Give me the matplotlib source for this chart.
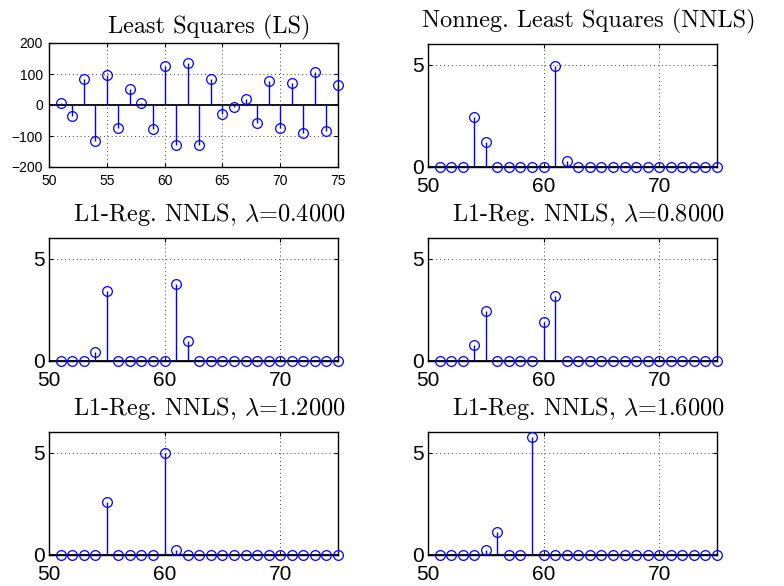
import matplotlib
matplotlib.use('Agg')
import matplotlib.pyplot as plt

plt.rcParams['mathtext.fontset'] = 'cm'
plt.rcParams['font.family'] = 'Liberation Sans'

# coefficient index (x axis)
idx = list(range(51, 76))

# estimated coefficients
ls_coef = [7, -35, 85, -116, 98, -74, 52, 7, -76, 126, -128, 137, -129,
           85, -29, -5, 20, -57, 77, -75, 70, -89, 107, -83, 65]
nnls_coef = [0, 0, 0, 2.43, 1.22, 0, 0, 0, 0, 0, 4.95, 0.31, 0,
             0, 0, 0, 0, 0, 0, 0, 0, 0, 0, 0, 0]
l1_04 = [0, 0, 0, 0.42, 3.43, 0, 0, 0, 0, 0, 3.77, 0.99, 0,
         0, 0, 0, 0, 0, 0, 0, 0, 0, 0, 0, 0]
l1_08 = [0, 0, 0, 0.78, 2.42, 0, 0, 0, 0, 1.88, 3.17, 0, 0,
         0, 0, 0, 0, 0, 0, 0, 0, 0, 0, 0, 0]
l1_12 = [0, 0, 0, 0, 2.60, 0, 0, 0, 0, 4.98, 0.23, 0, 0,
         0, 0, 0, 0, 0, 0, 0, 0, 0, 0, 0, 0]
l1_16 = [0, 0, 0, 0, 0.23, 1.12, 0, 0, 5.78, 0, 0, 0, 0,
         0, 0, 0, 0, 0, 0, 0, 0, 0, 0, 0, 0]

titles = ['Least Squares (LS)', 'Nonneg. Least Squares (NNLS)',
          r'L1-Reg. NNLS, $\lambda$=0.4000', r'L1-Reg. NNLS, $\lambda$=0.8000',
          r'L1-Reg. NNLS, $\lambda$=1.2000', r'L1-Reg. NNLS, $\lambda$=1.6000']
series = [ls_coef, nnls_coef, l1_04, l1_08, l1_12, l1_16]

W, H = 784, 586
fig = plt.figure(figsize=(W / 100, H / 100), dpi=100)

# axes boxes in pixels: (left, top, right, bottom)
boxes = [(49, 43, 338, 167), (428, 44, 717, 167),
         (49, 238, 338, 361), (428, 238, 717, 361),
         (49, 432, 338, 555), (428, 432, 717, 555)]

for i, (box, vals, title) in enumerate(zip(boxes, series, titles)):
    l, t, r, b = box
    ax = fig.add_axes([l / W, 1 - b / H, (r - l) / W, (b - t) / H])

    # grid and zero line
    ax.grid(True, linestyle=(0, (1, 3)), color='0.25', linewidth=0.7, zorder=0)
    ax.axhline(0, color='black', linewidth=1.3, zorder=1)

    ml, sl, bl = ax.stem(idx, vals, linefmt='b-', markerfmt='bo', basefmt=' ')
    sl.set_linewidth(1.0)
    ml.set_markerfacecolor('none')
    ml.set_markeredgecolor('blue')
    ml.set_markersize(7)
    ml.set_markeredgewidth(0.9)
    ml.set_zorder(3)
    ml.set_clip_on(False)

    ax.set_xlim(50, 75)
    if i == 0:
        ax.set_ylim(-200, 200)
        ax.set_xticks([50, 55, 60, 65, 70, 75])
        ax.set_yticks([-200, -100, 0, 100, 200])
        ax.set_yticklabels(['\u2212200', '\u2212100', '0', '100', '200'])
        ax.tick_params(axis='both', labelsize=10)
        ax.tick_params(axis='x', pad=5)
        ax.tick_params(axis='y', pad=4.5)
        ax.set_title(title, family='cmr10', fontsize=17.5, x=0.555, pad=7)
    else:
        ax.set_ylim(0, 6)
        ax.set_xticks([50, 60, 70])
        ax.set_yticks([0, 5])
        ax.tick_params(axis='both', labelsize=15)
        ax.tick_params(axis='x', pad=7.5)
        ax.tick_params(axis='y', pad=3)
        ax.set_title(title, family='cmr10', fontsize=17.5, x=0.555, pad=12)

    ax.tick_params(direction='in', length=3, width=0.8, top=True, right=True)
    for s in ax.spines.values():
        s.set_linewidth(1.0)
        s.set_color('black')

plt.savefig('out.png', dpi=100)
